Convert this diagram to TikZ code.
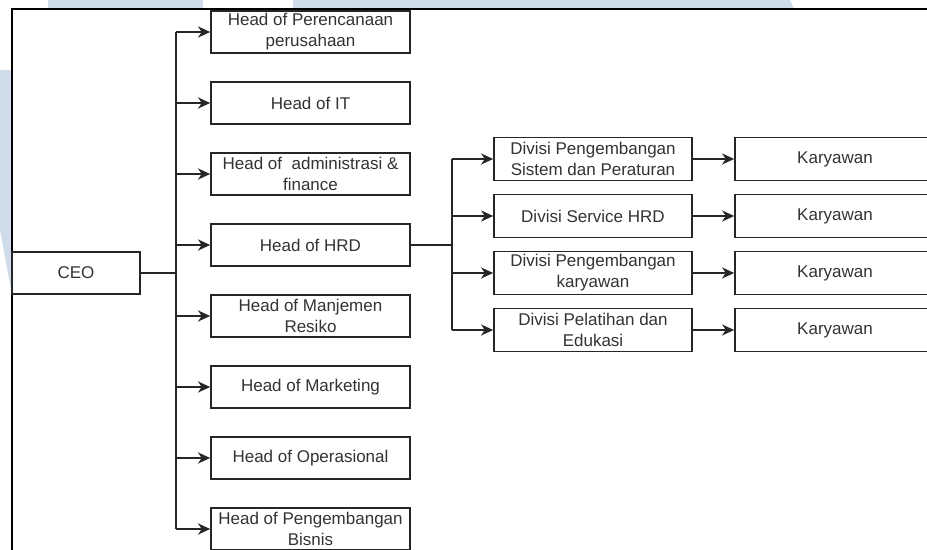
\documentclass[tikz,border=0pt]{standalone}
\usepackage{fontspec}
\setmainfont{Liberation Sans}
\usepackage{tikz}
\usetikzlibrary{arrows.meta}
\definecolor{wmblue}{RGB}{207,221,235}

\begin{document}
\begin{tikzpicture}[x=0.5pt, y=-0.5pt,
	box/.style={draw=black!85, line width=0.85pt, inner sep=0pt, align=center, text=black!80, font=\fontsize{8.5}{10.5}\selectfont},
	arr/.style={-{Stealth[length=6pt, width=5.5pt, inset=1.8pt]}, line width=0.9pt, draw=black!85},
	link/.style={line width=0.9pt, draw=black!85}]
	\path[use as bounding box, clip] (0,0) rectangle (927,550);
	\fill[white] (0,0) rectangle (927,550);
	\fill[wmblue] (48,0) rectangle (203,9);
	\fill[wmblue] (293,0) -- (790,0) -- (794,9) -- (293,9) -- cycle;
	\fill[wmblue] (0,70) -- (12,70) -- (12,295) -- (0,230) -- cycle;
	\draw[line width=1pt] (927,9) -- (12,9) -- (12,550);

	\node[box, minimum width=64pt, minimum height=21pt] (ceo) at (76,273) {CEO};
	\foreach \txt [count=\i] in {{Head of Perencanaan\\perusahaan}, {Head of IT}, {Head of\ \ administrasi \&\\finance}, {Head of HRD}, {Head of Manjemen\\Resiko}, {Head of Marketing}, {Head of Operasional}, {Head of Pengembangan\\Bisnis}} {
		\node[box, minimum width=99.5pt, minimum height=21pt] (h\i) at (310.5, {32+71*(\i-1)}) {\txt};
	}
	\foreach \txt [count=\i] in {{Divisi Pengembangan\\Sistem dan Peraturan}, {Divisi Service HRD}, {Divisi Pengembangan\\karyawan}, {Divisi Pelatihan dan\\Edukasi}} {
		\node[box, minimum width=99pt, minimum height=21.5pt] (d\i) at (593, {159+57*(\i-1)}) {\txt};
		\node[box, minimum width=100pt, minimum height=21.5pt] (k\i) at (835, {159+57*(\i-1)}) {Karyawan};
	}

	\coordinate (ceojoint) at (176,273);
	\draw[link] (ceo.east) -- (ceojoint);
	\draw[link] (ceojoint |- h1.west) -- (ceojoint |- h8.west);
	\foreach \i in {1,...,8} {
		\draw[arr] (ceojoint |- h\i.west) -- (h\i.west);
	}

	\coordinate (hrdjoint) at (452,245);
	\draw[link] (h4.east) -- (hrdjoint);
	\draw[link] (hrdjoint |- d1.west) -- (hrdjoint |- d4.west);
	\foreach \i in {1,...,4} {
		\draw[arr] (hrdjoint |- d\i.west) -- (d\i.west);
		\draw[arr] (d\i.east) -- (k\i.west);
	}
\end{tikzpicture}
\end{document}
